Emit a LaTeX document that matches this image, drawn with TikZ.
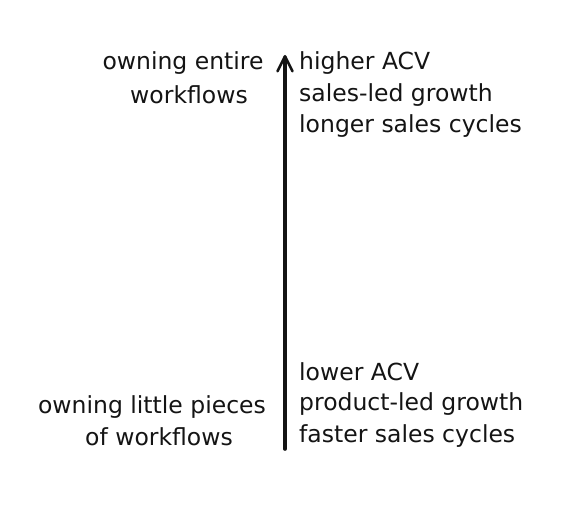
\documentclass[tikz,border=0pt]{standalone}
\usepackage{fontspec}
\setmainfont{DejaVu Sans}
\usetikzlibrary{arrows.meta}
\begin{document}
\begin{tikzpicture}[x=1pt,y=-1pt,
  lbl/.style={font=\fontsize{23.5}{31}\selectfont, text=black!92, inner sep=0pt},
  rlbl/.style={lbl, anchor=west, align=left},
  llbl/.style={lbl, align=center},
  axis/.style={draw=black!92, line width=3.6pt, line cap=round,
    -{Straight Barb[length=15pt,width=15pt,line width=2.6pt, round]}}]
\useasboundingbox[fill=white] (0,0) rectangle (586,526);
\coordinate (bot) at (285,449);
\coordinate (top) at (285,55);
\draw[axis] (bot) -- (top);
\node[rlbl] (hi) at (299,63) {higher ACV};
\node[rlbl] (sl) at (299,95) {sales-led growth};
\node[rlbl] (lc) at (299,126) {longer sales cycles};
\node[llbl] (oe) at (183,63) {owning entire};
\node[llbl] (wf) at (189,95) {workflows};
\node[rlbl] (lo) at (299,372) {lower ACV};
\node[rlbl] (pl) at (299,404) {product-led growth};
\node[rlbl] (fs) at (299,436) {faster sales cycles};
\node[llbl] (ol) at (152,407) {owning little pieces};
\node[llbl] (ow) at (159,437) {of workflows};
\end{tikzpicture}
\end{document}
